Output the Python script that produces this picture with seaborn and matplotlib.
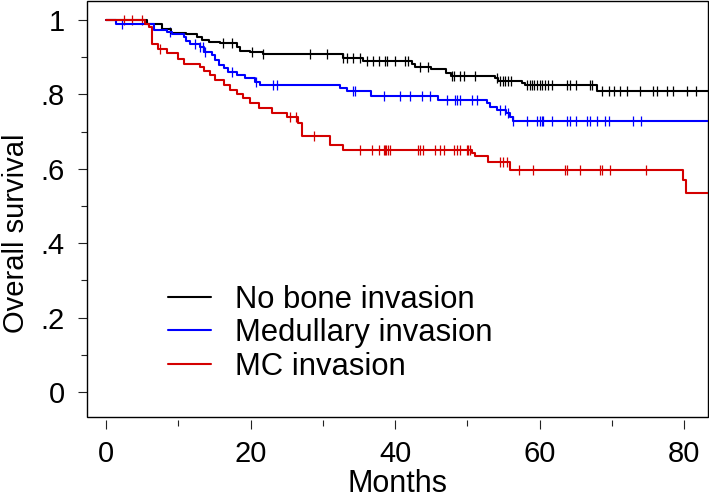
import numpy as np
import pandas as pd
import matplotlib
matplotlib.use('Agg')
import matplotlib.pyplot as plt
import seaborn as sns
from matplotlib.patches import Rectangle

# Kaplan-Meier estimates (months, survival after each step)
groups = ['No bone invasion', 'Medullary invasion', 'MC invasion']
colors = ['#000000', '#0000ff', '#d40000']
end_month = 83.3

nb_times = [0, 5.7, 7.7, 8.9, 11.1, 12.5, 13.3, 14.2, 15.8, 18.1, 18.5, 19.9, 21.7,
            32.8, 35.6, 42.3, 42.7, 44.9, 47.0, 47.7, 53.8, 54.2, 57.6, 58.0, 67.9]
nb_surv = [1.0, 0.988, 0.976, 0.966, 0.961, 0.954, 0.947, 0.941, 0.937, 0.928, 0.917, 0.913, 0.907,
           0.898, 0.890, 0.882, 0.874, 0.867, 0.856, 0.850, 0.843, 0.836, 0.830, 0.826, 0.809]
nb_censor = [16.2, 17.4, 20.2, 21.7, 28.2, 30.6, 32.8, 33.3, 34.1, 35.2, 36.1, 37.0, 37.7, 38.6,
             38.9, 40.0, 41.4, 41.8, 43.4, 44.6, 47.9, 48.1, 49.0, 49.5, 51.1, 54.1, 54.5, 55.0,
             55.2, 55.6, 56.1, 58.3, 58.7, 59.0, 59.2, 59.6, 60.1, 60.3, 60.8, 61.2, 61.7, 63.8,
             64.2, 65.1, 67.0, 67.2, 68.6, 69.6, 70.3, 71.2, 72.1, 73.9, 75.7, 76.2, 77.6, 78.5,
             80.4, 81.6]

med_times = [0, 1.4, 6.6, 8.4, 9.1, 10.7, 11.1, 11.6, 13.0, 13.6, 14.6, 15.1, 15.6, 16.3, 16.9,
             18.1, 19.2, 20.6, 21.3, 32.4, 33.3, 36.6, 45.9, 52.7, 53.1, 54.1, 55.4, 55.9, 56.3]
med_surv = [1.0, 0.990, 0.972, 0.967, 0.962, 0.953, 0.944, 0.935, 0.927, 0.913, 0.905, 0.892,
            0.878, 0.870, 0.861, 0.852, 0.843, 0.834, 0.825, 0.816, 0.809, 0.796, 0.785, 0.776,
            0.767, 0.758, 0.749, 0.739, 0.727]
med_censor = [2.2, 8.8, 12.3, 13.0, 13.4, 13.7, 17.4, 20.8, 23.1, 23.6, 34.2, 34.4, 38.4, 40.7,
              42.1, 43.7, 44.8, 47.2, 48.3, 48.6, 49.0, 50.6, 51.3, 54.5, 55.2, 55.6, 56.3, 58.3,
              59.6, 60.1, 60.3, 60.5, 61.7, 63.8, 64.2, 65.1, 66.5, 67.0, 67.9, 69.0, 69.6, 73.0,
              74.1]

mc_times = [0, 5.4, 5.9, 6.4, 7.2, 8.4, 10.0, 10.7, 13.0, 13.6, 14.3, 15.1, 16.3, 17.2, 18.1,
            19.0, 19.9, 21.1, 22.9, 25.0, 26.6, 27.1, 31.0, 32.8, 50.6, 51.1, 52.9, 55.9, 79.9,
            80.3]
mc_surv = [1.0, 0.990, 0.980, 0.935, 0.922, 0.912, 0.896, 0.882, 0.874, 0.862, 0.852, 0.839,
           0.825, 0.812, 0.801, 0.790, 0.777, 0.764, 0.750, 0.740, 0.724, 0.689, 0.664, 0.651,
           0.643, 0.634, 0.618, 0.596, 0.570, 0.535]
mc_censor = [2.4, 3.6, 5.0, 7.5, 25.4, 26.3, 28.7, 35.2, 36.8, 37.7, 38.4, 38.6, 38.8, 39.0, 39.3,
             43.2, 43.5, 43.9, 45.5, 46.2, 46.7, 48.1, 48.5, 49.0, 49.9, 50.1, 50.4, 54.5, 55.0,
             55.5, 57.1, 59.1, 63.5, 63.8, 65.6, 68.4, 68.6, 69.8, 74.8]

curves = [(nb_times, nb_surv, nb_censor),
          (med_times, med_surv, med_censor),
          (mc_times, mc_surv, mc_censor)]


def step_frame(times, surv):
    return pd.DataFrame({'month': times + [end_month], 'surv': surv + [surv[-1]]})


def censor_frame(times, surv, cens):
    idx = np.searchsorted(times, cens, side='right') - 1
    return pd.DataFrame({'month': cens, 'surv': np.array(surv)[idx]})


sns.set_style('ticks')
plt.rcParams['font.family'] = ['Liberation Sans', 'DejaVu Sans']
plt.rcParams.update({'text.color': 'black', 'axes.labelcolor': 'black',
                     'xtick.color': 'black', 'ytick.color': 'black'})

fig = plt.figure(figsize=(7.09, 5.0), dpi=100)
ax = fig.add_axes([0.1234, 0.166, 0.8745, 0.833])

for name, color, (times, surv, cens) in zip(groups, colors, curves):
    sns.lineplot(data=step_frame(times, surv), x='month', y='surv', ax=ax,
                 drawstyle='steps-post', estimator=None, sort=False,
                 color=color, linewidth=1.5, label=name)
    sns.scatterplot(data=censor_frame(times, surv, cens), x='month', y='surv', ax=ax,
                    marker='|', s=45, linewidth=0.9, color=color, legend=False)

ax.set_xlim(-2.6, 83.25)
ax.set_ylim(-0.067, 1.052)
ax.set_xticks([0, 20, 40, 60, 80])
ax.set_xticks([10, 30, 50, 70], minor=True)
ax.set_yticks([0, 0.2, 0.4, 0.6, 0.8, 1.0])
ax.set_yticklabels(['0', '.2', '.4', '.6', '.8', '1'])
ax.set_yticks([0.1, 0.3, 0.5, 0.7, 0.9], minor=True)
ax.tick_params(which='major', length=6.5, width=0.8, labelsize=21, color='#222222')
ax.tick_params(axis='y', which='major', pad=10)
ax.tick_params(axis='x', which='major', pad=8)
ax.tick_params(which='minor', length=4.5, width=0.8, color='#222222')

# detached x ticks like Stata, box drawn separately
for side in ['top', 'right', 'left', 'bottom']:
    ax.spines[side].set_visible(False)
ax.spines['bottom'].set_position(('outward', 2))
ax.add_patch(Rectangle((0, 0), 1, 1, transform=ax.transAxes, fill=False,
                       edgecolor='black', linewidth=1.0, clip_on=False))

ax.set_xlabel('Months', fontsize=22, labelpad=1)
ax.set_ylabel('Overall survival', fontsize=21)
ax.yaxis.set_label_coords(-0.092, 0.44)

h, l = ax.get_legend_handles_labels()
ax.legend(h, l, loc='upper left', bbox_to_anchor=(0.13, 0.318), frameon=False,
          fontsize=22.3, handlelength=1.4, handletextpad=0.75, labelspacing=0.12,
          borderpad=0, borderaxespad=0)

fig.savefig('out.png', dpi=100)
